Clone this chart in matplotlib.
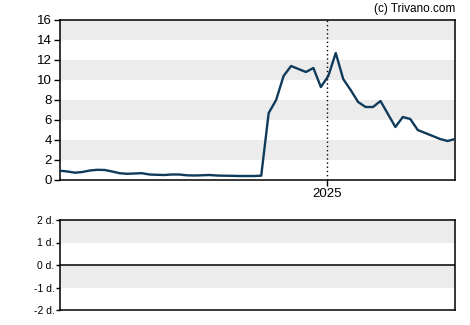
"""Price chart with empty lower panel, Trivano style."""
import matplotlib
matplotlib.use("Agg")
import matplotlib.pyplot as plt
import matplotlib.dates as mdates
import pandas as pd

plt.rcParams["font.family"] = ["Liberation Sans", "DejaVu Sans"]

# biweekly closes
dates = pd.date_range(end="2025-08-29", periods=54, freq="14D")
prices = [
    0.93, 0.85, 0.73, 0.80, 0.95, 1.02, 1.00, 0.85, 0.68, 0.62,
    0.65, 0.68, 0.55, 0.52, 0.50, 0.55, 0.55, 0.47, 0.45, 0.47,
    0.50, 0.45, 0.43, 0.42, 0.40, 0.40, 0.40, 0.43, 6.70, 8.00,
    10.4, 11.4, 11.1, 10.8, 11.2, 9.30, 10.4, 12.7, 10.1, 9.00,
    7.80, 7.30, 7.30, 7.90, 6.60, 5.30, 6.30, 6.10, 5.00, 4.70,
    4.40, 4.10, 3.90, 4.10,
]
year_mark = pd.Timestamp("2025-01-01")
top_ticks = [0, 2, 4, 6, 8, 10, 12, 14, 16]
top_bands = [(2, 4), (6, 8), (10, 12), (14, 16)]
low_ticks = [-2, -1, 0, 1, 2]
low_labels = ["-2 d.", "-1 d.", "0 d.", "1 d.", "2 d."]
low_bands = [(-1, 0), (1, 2)]

LINE = "#0f3a5a"
BAND = "#ececec"

fig = plt.figure(figsize=(4.7, 3.25), dpi=100)
ax = fig.add_axes([60 / 470, 1 - 180 / 325, 395 / 470, 160 / 325])
ax2 = fig.add_axes([60 / 470, 1 - 310 / 325, 395 / 470, 90 / 325])

for lo, hi in top_bands:
    ax.axhspan(lo, hi, color=BAND, lw=0, zorder=0)
ax.axvline(year_mark, color="black", ls=(0, (1, 2)), lw=1, zorder=1)
ax.plot(dates, prices, color=LINE, lw=1.7, zorder=3)
ax.set_xlim(dates[0], dates[-1])
ax.set_ylim(0, 16)
ax.set_yticks(top_ticks)
ax.set_xticks([mdates.date2num(year_mark)])
ax.set_xticklabels(["2025"])
ax.tick_params(labelsize=9.5, length=4, width=1, pad=2)

for lo, hi in low_bands:
    ax2.axhspan(lo, hi, color=BAND, lw=0, zorder=0)
ax2.axhline(0, color="black", lw=1.1, zorder=2)
ax2.set_xlim(0, 1)
ax2.set_ylim(-2, 2)
ax2.set_yticks(low_ticks)
ax2.set_yticklabels(low_labels)
ax2.set_xticks([])
ax2.tick_params(labelsize=7.5, length=3, width=1, pad=1)

for a in (ax, ax2):
    for s in a.spines.values():
        s.set_linewidth(1.1)

fig.text(455 / 470, 1 - 12 / 325, "(c) Trivano.com", ha="right",
         va="baseline", fontsize=8.5)

fig.savefig("out.png", dpi=100)
